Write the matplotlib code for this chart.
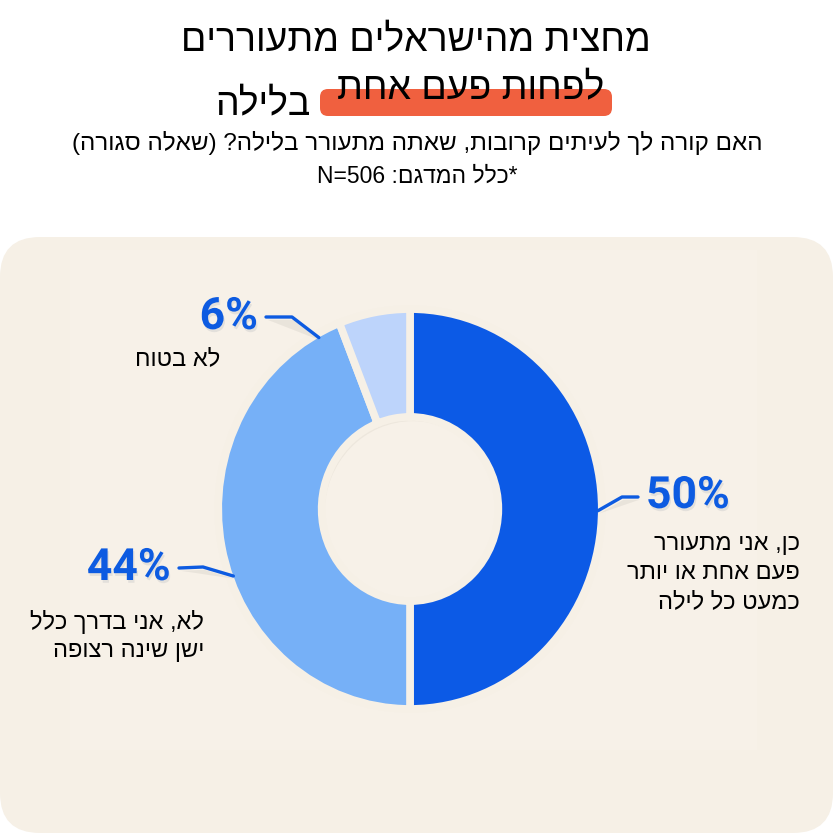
import re
import matplotlib
matplotlib.use("Agg")
import matplotlib.pyplot as plt
import matplotlib.patheffects as pe
from matplotlib.patches import FancyBboxPatch
import numpy as np

# data
CATEGORIES = [
    "כן, אני מתעורר\nפעם אחת או יותר\nכמעט כל לילה",
    "לא, אני בדרך כלל\nישן שינה רצופה",
    "לא בטוח",
]
VALUES = [50, 44, 6]
COLORS = ["#0C5AE6", "#76B0F7", "#BDD4FB"]

TITLE_1 = "מחצית מהישראלים מתעוררים"
TITLE_2 = "לפחות פעם אחת"
TITLE_3 = "בלילה"
SUBTITLE = "האם קורה לך לעיתים קרובות, שאתה מתעורר בלילה? (שאלה סגורה)"
SAMPLE = "*כלל המדגם: N=506"

W, H = 834, 834
BEIGE = "#F6F0E6"
BLUE_TXT = "#0D5BE1"
CX, CY, RX, RY = 410, 509, 188, 196

HEB = ["Liberation Sans", "DejaVu Sans"]
TITLE_FONT = ["Liberation Sans Narrow", "Liberation Sans", "DejaVu Sans"]
NUM_FONT = ["Roboto", "DejaVu Sans"]


def vis(s):
    # matplotlib has no bidi, so put the text in visual order
    lines = []
    for line in s.split("\n"):
        r = line[::-1].translate(str.maketrans("()", ")("))
        r = re.sub(r"[A-Za-z0-9=%.]+", lambda m: m.group(0)[::-1], r)
        lines.append(r)
    return "\n".join(lines)


def edge_point(angle_deg):
    a = np.deg2rad(angle_deg)
    return CX + RX * np.cos(a), CY - RY * np.sin(a)


fig = plt.figure(figsize=(W / 100, H / 100), dpi=100)
fig.patch.set_facecolor("white")

ax_bg = fig.add_axes([0, 0, 1, 1], zorder=0)
ax_bg.set_xlim(0, W)
ax_bg.set_ylim(H, 0)
ax_bg.axis("off")

panel = FancyBboxPatch(
    (0, 237), 833, 596,
    boxstyle="round,pad=0,rounding_size=40",
    facecolor=BEIGE, edgecolor="none",
)
ax_bg.add_patch(panel)
ax_bg.add_patch(FancyBboxPatch(
    (70, 250), 687, 500,
    boxstyle="square,pad=0",
    facecolor="#F8F3EA", edgecolor="none", alpha=0.6,
))

# donut
ax_pie = fig.add_axes(
    [(CX - RX) / W, 1 - (CY + RY) / H, 2 * RX / W, 2 * RY / H],
    zorder=1,
)
ax_pie.pie(
    [1], colors=["#5a4a30"], radius=1.0, center=(0.015, -0.022),
    wedgeprops=dict(width=0.53, alpha=0.06, edgecolor="none"),
)
ax_pie.pie(
    VALUES,
    colors=COLORS,
    startangle=90,
    counterclock=False,
    radius=1.02,
    wedgeprops=dict(width=0.55, edgecolor=BEIGE, linewidth=5.5),
)
ax_pie.set_aspect("auto")
ax_pie.set_xlim(-1, 1)
ax_pie.set_ylim(-1, 1)
ax_pie.axis("off")

ax = fig.add_axes([0, 0, 1, 1], zorder=2)
ax.set_xlim(0, W)
ax.set_ylim(H, 0)
ax.axis("off")
ax.patch.set_alpha(0)

# title
ax.add_patch(FancyBboxPatch(
    (320, 89), 292, 27,
    boxstyle="round,pad=0,rounding_size=8",
    facecolor="#F0603F", edgecolor="none", zorder=1,
))
ax.text(416, 40, vis(TITLE_1), ha="center", va="center",
        fontsize=27, family=TITLE_FONT, color="black", zorder=2)
ax.text(604, 88, vis(TITLE_2), ha="right", va="center",
        fontsize=27, family=TITLE_FONT, color="black", zorder=2)
ax.text(311, 104, vis(TITLE_3), ha="right", va="center",
        fontsize=27, family=TITLE_FONT, color="black", zorder=2)
ax.text(417, 143, vis(SUBTITLE), ha="center", va="center",
        fontsize=17.5, family=HEB, color="black")
ax.text(417, 176, vis(SAMPLE), ha="center", va="center",
        fontsize=16.5, family=HEB, color="black")

# labels: percent anchor, connector angle on the ring, knee, category text anchor
label_pos = [
    dict(px=646, py=496, ha="left", ang=-0.5, lx=800, ly=573, knee=(622, 497)),
    dict(px=171, py=568, ha="right", ang=200, lx=204, ly=636, knee=(203, 567)),
    dict(px=258, py=317, ha="right", ang=119, lx=220, ly=359, knee=(292, 317)),
]

shadow = [pe.SimplePatchShadow(offset=(1, -2), alpha=0.08), pe.Normal()]

for cat, val, lp in zip(CATEGORIES, VALUES, label_pos):
    ax.text(lp["px"], lp["py"], f"{val}%", ha=lp["ha"], va="center",
            fontsize=32, fontweight="bold", family=NUM_FONT,
            color=BLUE_TXT, path_effects=shadow)
    ex, ey = edge_point(lp["ang"])
    if lp["ha"] == "left":
        end = (lp["px"] - 8, lp["py"] + 1)
    else:
        end = (lp["px"] + 8, lp["py"])
    xs = [ex, lp["knee"][0], end[0]]
    ys = [ey, lp["knee"][1], end[1]]
    ax.plot(xs, ys, color=BLUE_TXT, lw=2.4, solid_capstyle="round",
            solid_joinstyle="round", path_effects=shadow)
    ax.text(lp["lx"], lp["ly"], vis(cat), ha="right", va="center",
            multialignment="right", fontsize=17, family=HEB,
            color="black", linespacing=1.4)

fig.savefig("out.png", dpi=100, facecolor=fig.get_facecolor())
